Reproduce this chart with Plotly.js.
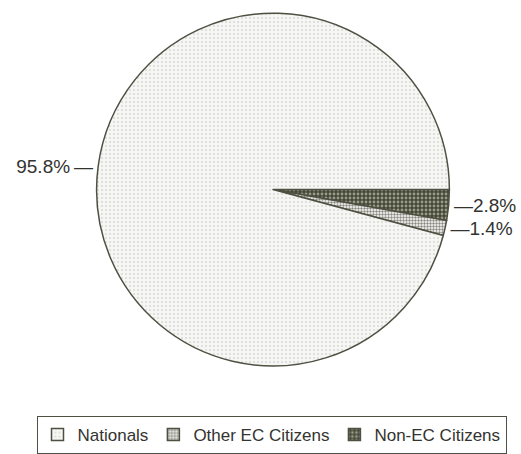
<!DOCTYPE html>
<html><head><meta charset="utf-8">
<script src="https://cdn.plot.ly/plotly-3.0.1.min.js"></script>
<style>html,body{margin:0;padding:0;background:#fff;}</style>
</head><body>
<div id="chart" style="width:521px;height:454px;"></div>
<script>
const categories = ["Non-EC Citizens", "Other EC Citizens", "Nationals"];
const shares = [2.8, 1.4, 95.8];
const labelTemplates = ["—%{percent:.1%}", "—%{percent:.1%}", "%{percent:.1%}\u2009—"];

const trace = {
  type: "pie",
  labels: categories,
  values: shares,
  sort: false,
  direction: "clockwise",
  rotation: 90,
  textposition: "outside",
  texttemplate: labelTemplates,
  hoverinfo: "label+percent",
  outsidetextfont: {family: "Liberation Sans, Arial, sans-serif", size: 19, color: "#333330"},
  marker: {
    colors: ["#4b4d3c", "#f2f2ee", "#f3f3f1"],
    line: {color: "#4e5042", width: 1.5},
    pattern: {
      shape: [".", ".", "."],
      fgcolor: ["#9a9c84", "#8a8a80", "#d8d8d4"],
      bgcolor: ["#44463a", "#ffffff", "#f6f6f4"],
      size: [4, 3, 4],
      solidity: [0.4, 0.5, 0.2],
      fillmode: "replace"
    }
  },
  domain: {x: [0.184, 0.864], y: [0.194, 0.971]}
};

const layout = {
  width: 521, height: 454,
  margin: {l: 0, r: 0, t: 0, b: 0},
  paper_bgcolor: "#fff",
  showlegend: true,
  legend: {
    orientation: "h",
    traceorder: "reversed",
    x: 271.5 / 521, xanchor: "center",
    y: 1 - 416 / 454, yanchor: "top",
    bordercolor: "#4e5042", borderwidth: 1,
    font: {family: "Liberation Sans, Arial, sans-serif", size: 17, color: "#333330"},
    itemwidth: 30
  }
};

Plotly.newPlot("chart", [trace], layout, {displayModeBar: false, staticPlot: true});
</script>
</body></html>
